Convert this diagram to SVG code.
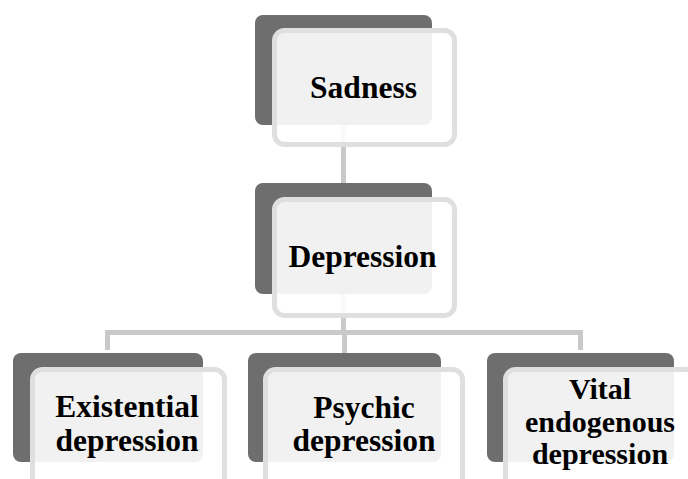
<svg xmlns="http://www.w3.org/2000/svg" width="688" height="479" viewBox="0 0 688 479">
  <style>
    .back { fill: #6e6e6e; }
    .front { fill: #ffffff; fill-opacity: 0.9; stroke: #dfdfdf; stroke-width: 5; }
    .link { stroke: #c9c9c9; stroke-width: 5; fill: none; }
    .label { font-family: "Liberation Serif", "Times New Roman", serif; font-weight: bold; font-size: 31.5px; fill: #000; text-anchor: middle; }
    .tight { font-size: 30px; }
  </style>

  <!-- connectors -->
  <g id="connectors">
    <line class="link" x1="343.5" y1="125" x2="343.5" y2="184"/>
    <line class="link" x1="343.5" y1="294" x2="343.5" y2="332.5"/>
    <polyline class="link" points="107.5,350 107.5,332.5 580.5,332.5 580.5,350"/>
    <line class="link" x1="344.5" y1="332.5" x2="344.5" y2="353"/>
  </g>

  <!-- top level -->
  <g id="sadness">
    <rect class="back" x="255" y="15" width="177" height="110" rx="8"/>
    <rect class="front" x="274.5" y="30.5" width="180" height="114" rx="10"/>
    <text class="label" x="363.5" y="98">Sadness</text>
  </g>

  <!-- middle level -->
  <g id="depression">
    <rect class="back" x="255" y="183" width="177" height="111" rx="8"/>
    <rect class="front" x="274.5" y="199.5" width="180" height="116" rx="10"/>
    <text class="label" x="362.5" y="267">Depression</text>
  </g>

  <!-- bottom level -->
  <g id="existential">
    <rect class="back" x="13" y="353" width="190" height="109" rx="8"/>
    <rect class="front" x="32.5" y="369.5" width="192" height="130" rx="10"/>
    <text class="label" x="127" y="417">Existential</text>
    <text class="label" x="127" y="451">depression</text>
  </g>

  <g id="psychic">
    <rect class="back" x="248" y="353" width="193" height="109" rx="8"/>
    <rect class="front" x="265.5" y="369.5" width="197" height="130" rx="10"/>
    <text class="label" x="364" y="418">Psychic</text>
    <text class="label" x="364" y="451">depression</text>
  </g>

  <g id="vital">
    <rect class="back" x="487" y="353" width="187" height="109" rx="8"/>
    <rect class="front" x="505.5" y="369.5" width="200" height="130" rx="10"/>
    <text class="label tight" x="600" y="399">Vital</text>
    <text class="label tight" x="600" y="431.5">endogenous</text>
    <text class="label tight" x="600" y="464">depression</text>
  </g>
</svg>
